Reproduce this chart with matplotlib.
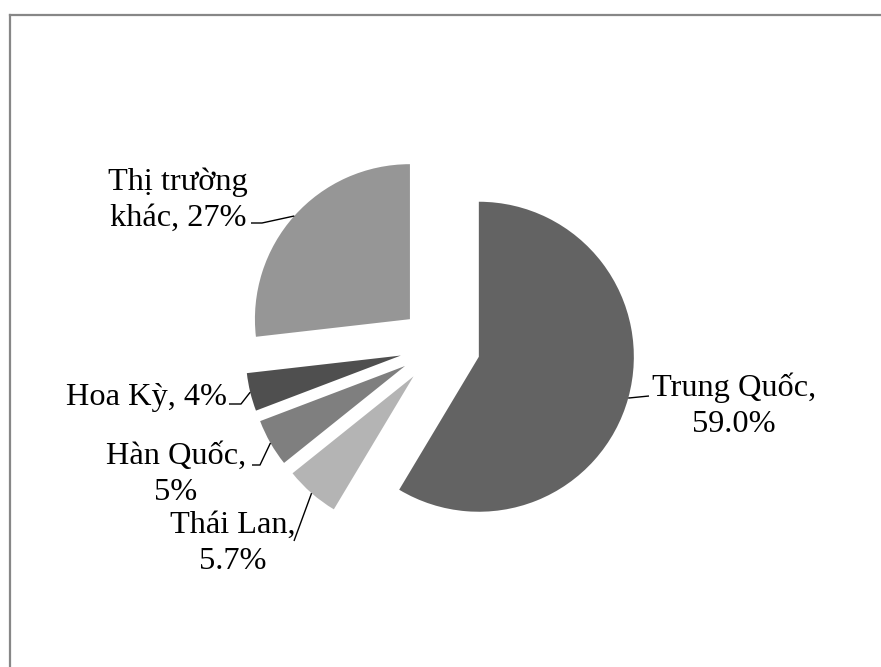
import numpy as np
import matplotlib
matplotlib.use("Agg")
import matplotlib.pyplot as plt
from matplotlib.lines import Line2D

# Market share data
markets = ["Trung Quốc", "Thái Lan", "Hàn Quốc", "Hoa Kỳ", "Thị trường khác"]
shares = [59.0, 5.7, 5.0, 4.0, 27.0]
value_labels = ["59.0%", "5.7%", "5%", "4%", "27%"]
colors = ["#636363", "#b4b4b4", "#7f7f7f", "#4f4f4f", "#969696"]

W, H = 881, 667
fig = plt.figure(figsize=(W / 100, H / 100), dpi=100)
ax = fig.add_axes([0, 0, 1, 1])


def py(y):
    # convert a top-down pixel row into the axes' upward y coordinate
    return H - y


radius = 155
center = (440, py(346))
wedges, _ = ax.pie(shares, colors=colors, startangle=90, counterclock=False,
                   radius=radius, center=center, explode=[0.26 * radius] * 5,
                   wedgeprops=dict(linewidth=0), frame=True)
ax.set_xlim(0, W)
ax.set_ylim(0, H)
ax.set_aspect("equal")
ax.axis("off")

# label text centre and the elbow path towards the wedge
label_layout = [
    dict(xy=(734, 406), elbow=[(649, 396)]),
    dict(xy=(233, 543), elbow=[(294, 541)]),
    dict(xy=(176, 474), elbow=[(252, 465), (260, 465)]),
    dict(xy=(146, 398), elbow=[(229, 404), (241, 404)]),
    dict(xy=(178, 200), elbow=[(251, 223), (262, 223)]),
]
label_texts = ["Trung Quốc,\n59.0%", "Thái Lan,\n5.7%", "Hàn Quốc,\n5%",
               "Hoa Kỳ, 4%", "Thị trường\nkhác, 27%"]

font = dict(family="Liberation Serif", size=23.3, color="#000000")

for wedge, lay, txt in zip(wedges, label_layout, label_texts):
    mid = np.deg2rad((wedge.theta1 + wedge.theta2) / 2)
    cx, cy = wedge.center
    arc_pt = (cx + wedge.r * np.cos(mid), cy + wedge.r * np.sin(mid))
    pts = [(x, py(y)) for x, y in lay["elbow"]] + [arc_pt]
    xs, ys = zip(*pts)
    ax.plot(xs, ys, color="#000000", lw=1.0, solid_capstyle="butt")
    ax.text(lay["xy"][0], py(lay["xy"][1]), txt, ha="center",
            va="center", linespacing=1.32, **font)

# outer chart border (left and top edges)
border = "#878787"
fig.add_artist(Line2D([9.5 / W, 9.5 / W], [0, 1 - 15 / H], transform=fig.transFigure,
                      color=border, lw=1.6))
fig.add_artist(Line2D([9.5 / W, 1], [1 - 15 / H, 1 - 15 / H], transform=fig.transFigure,
                      color=border, lw=1.6))

fig.savefig("out.png", dpi=100, facecolor="white")
